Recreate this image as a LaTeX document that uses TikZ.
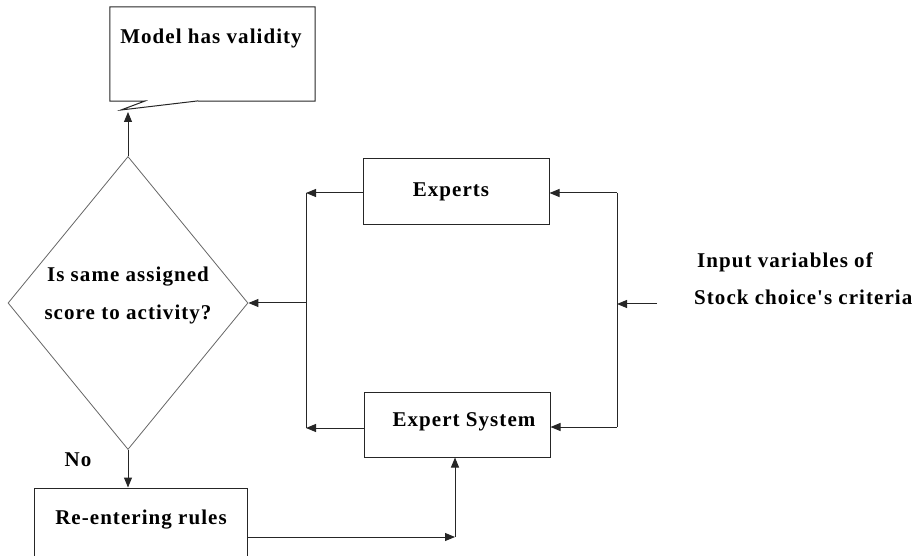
\documentclass[tikz,border=0pt]{standalone}
\usepackage{fontspec}
\setmainfont{Liberation Serif}[Ligatures=TeXOff,LetterSpace=5]
\usetikzlibrary{arrows.meta,shapes.geometric}
\tikzset{
  txt/.style={font=\bfseries\fontsize{21}{25}\selectfont,inner sep=0pt},
  box/.style={draw=black!85,line width=1pt,inner sep=0pt},
  arr/.style={draw=black!85,line width=1pt,-{Triangle[length=10pt,width=8pt]}},
  bus/.style={draw=black!85,line width=1pt},
}
\begin{document}
\begin{tikzpicture}[x=1pt,y=-1pt,line join=miter]
  \useasboundingbox (0,0) rectangle (919,556);
  % callout on top
  \node[inner sep=0pt,minimum width=205pt,minimum height=94pt] (valid) at (212.5,54) {};
  \node[txt] (validtxt) at (211,38) {Model has validity};
  \coordinate (tip) at (121,110);
  \draw[box] (valid.south west) -- (valid.north west) -- (valid.north east)
    -- (valid.south east) -- (197,101) -- (tip) -- (145,101) -- cycle;
  % decision
  \node[diamond,draw=black!60,line width=0.8pt,inner sep=0pt,
    minimum width=240pt,minimum height=293pt] (dec) at (128,303) {};
  \node[txt,align=center] (dectxt) at (128,295) {Is same assigned\\[13pt]score to activity?};
  \node[txt] (no) at (78,460) {No};
  % boxes
  \node[box,minimum width=186pt,minimum height=66pt] (exp) at (456,192) {};
  \node[txt] (exptxt) at (451,192) {Experts};
  \node[box,minimum width=186pt,minimum height=65pt] (es) at (457,424.5) {};
  \node[txt] (estxt) at (464,422) {Expert System};
  \node[box,minimum width=213pt,minimum height=100pt] (re) at (140.5,538) {};
  \node[txt] (retxt) at (141,520) {Re-entering rules};
  \node[txt,align=left,anchor=west] (in) at (694,279)
    {\hspace*{3pt}Input variables of\\[12pt]Stock choice's criteria};
  % buses
  \coordinate (src) at (657,304);
  \coordinate (rtop) at (617,193);
  \coordinate (rmid) at (617,304);
  \coordinate (rbot) at (617,427);
  \coordinate (ltop) at (306,193);
  \coordinate (lmid) at (306,303);
  \coordinate (lbot) at (306,428);
  \coordinate (turn) at (455,537);
  % connectors
  \draw[arr] (dec.north) -- (dec.north |- 0,112);
  \draw[arr] (dec.south) -- (re.north -| dec.south);
  \draw[arr] (src) -- (rmid);
  \draw[bus] (rtop) -- (rbot);
  \draw[arr] (rtop) -- (exp.east |- rtop);
  \draw[arr] (rbot) -- (es.east |- rbot);
  \draw[arr] (exp.west |- ltop) -- (ltop);
  \draw[arr] (es.west |- lbot) -- (lbot);
  \draw[bus] (ltop) -- (lbot);
  \draw[arr] (lmid) -- (dec.east);
  \draw[arr] (re.east |- turn) -- (turn);
  \draw[arr] (turn) -- (turn |- es.south);
\end{tikzpicture}
\end{document}
